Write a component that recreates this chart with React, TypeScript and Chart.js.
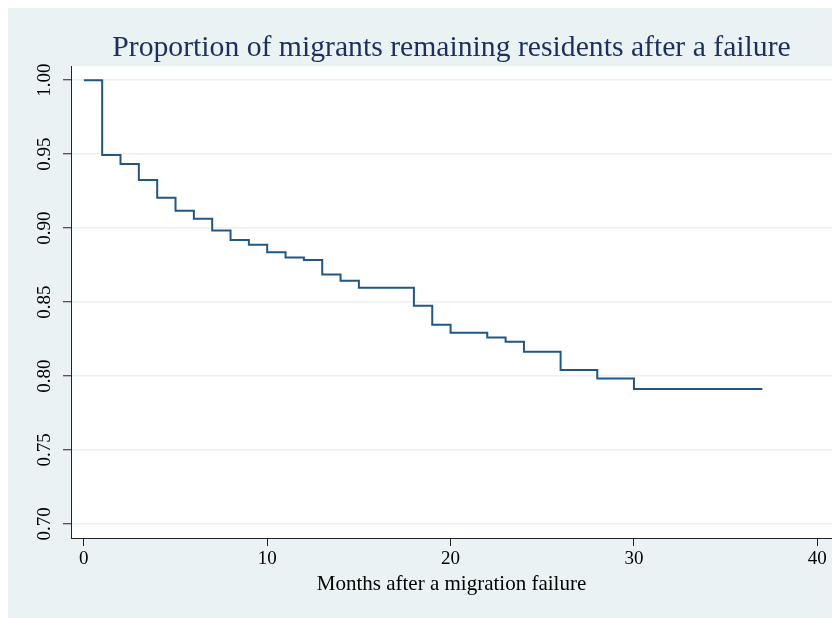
import React, { useEffect, useRef } from "react";
import { Chart, registerables } from "chart.js";

Chart.register(...registerables);

// ---- data ----
const months = [0, 1, 2, 3, 4, 5, 6, 7, 8, 9, 10, 11, 12, 13, 14, 15, 18, 19, 20, 22, 23, 24, 26, 28, 30, 37];
const survival = [
  1.0, 0.9495, 0.9434, 0.9326, 0.9205, 0.9117, 0.9063, 0.8984, 0.8919, 0.8887, 0.8836, 0.8802, 0.8784,
  0.8687, 0.8644, 0.8597, 0.8475, 0.8347, 0.8293, 0.8261, 0.8232, 0.8164, 0.8041, 0.7984, 0.7912, 0.7912,
];
const xTickValues = [0, 10, 20, 30, 40];
const yTickValues = [0.7, 0.75, 0.8, 0.85, 0.9, 0.95, 1.0];
const chartTitle = "Proportion of migrants remaining residents after a failure";
const xAxisTitle = "Months after a migration failure";

const OUTER_BG = "#EAF2F3";
const LINE_COLOR = "#225784";
const SERIF = "'Liberation Serif', 'Times New Roman', serif";

const backgroundPlugin = {
  id: "stataBackground",
  beforeDraw(chart: any) {
    const { ctx, chartArea, width, height } = chart;
    ctx.save();
    ctx.fillStyle = OUTER_BG;
    ctx.fillRect(0, 0, width, height);
    ctx.fillStyle = "#ffffff";
    ctx.fillRect(chartArea.left, chartArea.top, chartArea.right - chartArea.left, chartArea.bottom - chartArea.top);
    ctx.restore();
  },
};

export default function App() {
  const canvasRef = useRef<HTMLCanvasElement | null>(null);

  useEffect(() => {
    document.documentElement.style.overflow = "hidden";
    document.body.style.overflow = "hidden";
    const canvas = canvasRef.current;
    if (!canvas) return;
    const points = months.map((m, i) => ({ x: m, y: survival[i] }));
    const chart = new Chart(canvas, {
      type: "line",
      data: {
        datasets: [
          {
            data: points,
            borderColor: LINE_COLOR,
            borderWidth: 2,
            pointRadius: 0,
            stepped: "before",
            fill: false,
          },
        ],
      },
      options: {
        responsive: false,
        animation: false,
        devicePixelRatio: 1,
        layout: { padding: { left: 0, right: 8, top: 0, bottom: 0 } },
        plugins: {
          legend: { display: false },
          tooltip: { enabled: false },
          title: {
            display: true,
            text: chartTitle,
            fullSize: false,
            color: "#1C2F5E",
            font: { family: SERIF, size: 29.7, weight: "normal" },
            padding: { top: 22, bottom: 0.5 },
          },
        },
        scales: {
          x: {
            type: "linear",
            min: -0.7,
            max: 40.8,
            afterFit: (scale: any) => {
              scale.height = 80;
            },
            afterBuildTicks: (scale: any) => {
              scale.ticks = xTickValues.map((v) => ({ value: v }));
            },
            ticks: {
              color: "#000",
              font: { family: SERIF, size: 19 },
              padding: 2,
              maxRotation: 0,
              callback: (v: any) => String(v),
            },
            grid: {
              drawOnChartArea: false,
              drawTicks: true,
              tickLength: 8,
              tickColor: "#222",
              tickWidth: 1,
            },
            border: { display: true, color: "#222", width: 1 },
            title: {
              display: true,
              text: xAxisTitle,
              color: "#000",
              font: { family: SERIF, size: 21 },
              padding: { top: 0, bottom: 21 },
            },
          },
          y: {
            type: "linear",
            min: 0.6905,
            max: 1.0095,
            afterFit: (scale: any) => {
              scale.width = 63;
            },
            afterBuildTicks: (scale: any) => {
              scale.ticks = yTickValues.map((v) => ({ value: v }));
            },
            ticks: {
              color: "#000",
              font: { family: SERIF, size: 19 },
              minRotation: 90,
              maxRotation: 90,
              crossAlign: "center",
              padding: 1,
              callback: (v: any) => Number(v).toFixed(2),
            },
            grid: {
              drawOnChartArea: true,
              color: OUTER_BG,
              lineWidth: 1.5,
              drawTicks: true,
              tickLength: 8,
              tickColor: "#222",
              tickWidth: 1,
            },
            border: { display: true, color: "#222", width: 1 },
          },
        },
      },
      plugins: [backgroundPlugin],
    });
    return () => chart.destroy();
  }, []);

  return (
    <div>
      <canvas ref={canvasRef} width={832} height={610} style={{ display: "block" }} />
    </div>
  );
}
